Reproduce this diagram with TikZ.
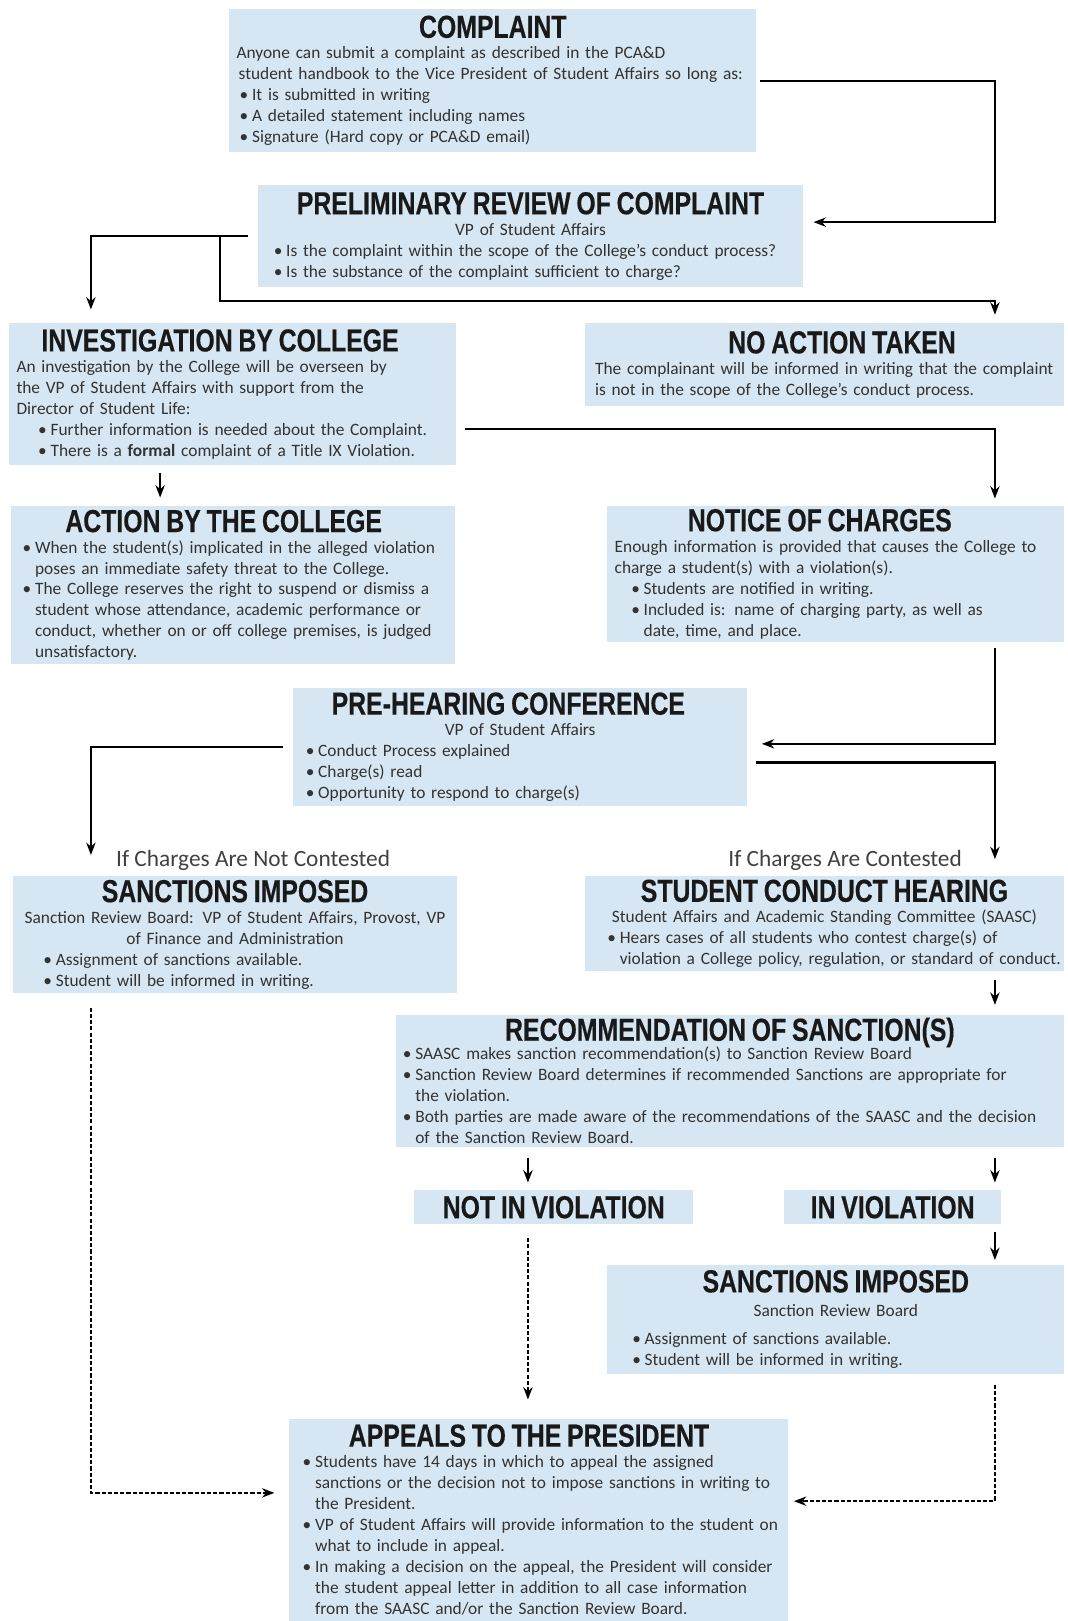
\documentclass[tikz,border=0pt]{standalone}
\usepackage{fontspec}
\setmainfont{Carlito}
\newfontfamily\headfont[FakeStretch=0.78, BoldFeatures={FakeBold=0.4}]{Liberation Sans}
\usepackage{tkz-euclide}
\usetikzlibrary{arrows.meta}
\definecolor{boxblue}{RGB}{214,230,242}

\newcommand\heading[2][0pt]{{\centering\headfont\bfseries\fontsize{15.4}{17}\selectfont\color{black!90}\hspace*{#1}#2\par}}
\newcommand\centred[1]{{\centering #1\par}}
\newcommand\bitem[1][3pt]{\par\hangindent=\dimexpr#1+6pt\relax\hangafter=1\hspace*{#1}\makebox[6pt][l]{\textbullet}\ignorespaces}

\begin{document}
\begin{tikzpicture}[x=0.5pt, y=-0.5pt,
    box/.style={fill=boxblue, inner xsep=3.5pt, inner ysep=0pt, align=left, text=black!80,
        font=\fontsize{8.4}{10.15}\selectfont, execute at begin node=\setlength{\parindent}{0pt}},
    lbl/.style={inner sep=0pt, text=black!75, font=\fontsize{11.3}{13}\selectfont},
    arr/.style={line width=1pt, -{Stealth[length=6pt,width=4.5pt]}},
    dotline/.style={arr, dash pattern=on 2pt off 1pt}]
    \useasboundingbox (0,0) rectangle (1033,1569);
    \tkzDefPoints{88/0/lc, 155/0/ic, 511/0/mc, 963/0/rc, 213/291/br, 963/215/r1,
        963/415/m1, 963/720/m2, 963/738/m3, 88/1445/m4, 963/1453/m5}

    \node[box, text width=248pt, minimum height=69pt] (cmp) at (477,78) {\heading{COMPLAINT}
        Anyone can submit a complaint as described in the PCA\&D\newline
        \hspace*{1pt}student handbook to the Vice President of Student Affairs so long as:
        \bitem[1.5pt] It is submitted in writing
        \bitem[1.5pt] A detailed statement including names
        \bitem[1.5pt] Signature (Hard copy or PCA\&D email)\par};
    \node[box, text width=256.5pt, minimum height=49.5pt] (prv) at (513.5,228.5) {\heading{PRELIMINARY REVIEW OF COMPLAINT}
        \centred{VP of Student Affairs}
        \bitem[4pt] Is the complaint within the scope of the College’s conduct process?
        \bitem[4pt] Is the substance of the complaint sufficient to charge?\par};
    \node[box, text width=209pt, minimum height=68.5pt] (inv) at (225,381.5) {\heading[-12pt]{INVESTIGATION BY COLLEGE}
        An investigation by the College will be overseen by\newline
        the VP of Student Affairs with support from the\newline
        Director of Student Life:
        \bitem[10.5pt] Further information is needed about the Complaint.
        \bitem[10.5pt] There is a \textbf{formal} complaint of a Title IX Violation.\par};
    \node[box, text width=225pt, minimum height=40pt] (noa) at (798,353) {\heading[17pt]{NO ACTION TAKEN}
        \hspace*{1.5pt}The complainant will be informed in writing that the complaint\newline
        \hspace*{1.5pt}is not in the scope of the College’s conduct process.\par};
    \node[box, text width=207.5pt, minimum height=76.5pt] (act) at (225.5,566.5) {\heading[-9pt]{ACTION BY THE COLLEGE}
        \bitem[2pt] When the student(s) implicated in the alleged violation\newline
        poses an immediate safety threat to the College.
        \bitem[2pt] The College reserves the right to suspend or dismiss a\newline
        student whose attendance, academic performance or\newline
        conduct, whether on or off college premises, is judged\newline
        unsatisfactory.\par};
    \node[box, text width=214pt, minimum height=65.5pt] (noc) at (809,555.5) {\heading[-15.5pt]{NOTICE OF CHARGES}
        Enough information is provided that causes the College to\newline
        charge a student(s) with a violation(s).
        \bitem[8pt] Students are notified in writing.
        \bitem[8pt] Included is: name of charging party, as well as\newline
        date, time, and place.\par};
    \node[box, text width=212.5pt, minimum height=57pt] (phc) at (503.5,723) {\heading[-11.5pt]{PRE-HEARING CONFERENCE}
        \centred{VP of Student Affairs}
        \bitem[2.5pt] Conduct Process explained
        \bitem[2.5pt] Charge(s) read
        \bitem[2.5pt] Opportunity to respond to charge(s)\par};
    \node[lbl] (nct) at (245,833) {If Charges Are Not Contested};
    \node[lbl] (ctd) at (818,833) {If Charges Are Contested};
    \node[box, text width=207.5pt, minimum height=56.5pt] (sil) at (227.5,904.5) {\heading{SANCTIONS IMPOSED}
        \centred{Sanction Review Board: VP of Student Affairs, Provost, VP}
        \centred{of Finance and Administration}
        \bitem[11pt] Assignment of sanctions available.
        \bitem[11pt] Student will be informed in writing.\par};
    \node[box, inner xsep=1.5pt, text width=229pt, minimum height=46pt] (sch) at (798,894) {\heading{STUDENT CONDUCT HEARING}
        \centred{Student Affairs and Academic Standing Committee (SAASC)}
        \bitem[9.5pt] Hears cases of all students who contest charge(s) of\newline
        violation a College policy, regulation, or standard of conduct.\par};
    \node[box, text width=316.5pt, minimum height=64pt] (rec) at (706.5,1046) {\heading{RECOMMENDATION OF SANCTION(S)}\vspace{-1pt}
        \bitem[0pt] SAASC makes sanction recommendation(s) to Sanction Review Board
        \bitem[0pt] Sanction Review Board determines if recommended Sanctions are appropriate for\newline
        the violation.
        \bitem[0pt] Both parties are made aware of the recommendations of the SAASC and the decision\newline
        of the Sanction Review Board.\par};
    \node[box, text width=128pt, minimum height=16.5pt] (niv) at (536,1168.5) {\heading{NOT IN VIOLATION}};
    \node[box, text width=98pt, minimum height=16.5pt] (iv) at (864,1168.5) {\heading{IN VIOLATION}};
    \node[box, text width=214pt, minimum height=53pt] (sir) at (809,1277) {\heading{SANCTIONS IMPOSED}\vspace{1.5pt}
        \centred{Sanction Review Board}\vspace{3.5pt}
        \bitem[8.5pt] Assignment of sanctions available.
        \bitem[8.5pt] Student will be informed in writing.\par};
    \node[box, text width=234.5pt, minimum height=98pt] (app) at (521.5,1471) {\heading[-9.5pt]{APPEALS TO THE PRESIDENT}
        \bitem[3pt] Students have 14 days in which to appeal the assigned\newline
        sanctions or the decision not to impose sanctions in writing to\newline
        the President.
        \bitem[3pt] VP of Student Affairs will provide information to the student on\newline
        what to include in appeal.
        \bitem[3pt] In making a decision on the appeal, the President will consider\newline
        the student appeal letter in addition to all case information\newline
        from the SAASC and/or the Sanction Review Board.\par};

    \draw[arr, shorten <=1.5pt, shorten >=5pt] (cmp.east) -| (r1) -- (prv.east |- r1);
    \draw[arr, shorten <=5pt, shorten >=6.5pt] (prv.west) -| (inv.north -| lc);
    \draw[arr, shorten >=4pt] (br |- prv.west) -- (br) -| (noa.north -| rc);
    \draw[arr, shorten <=4.5pt, shorten >=3.5pt] (inv.east |- m1) -- (m1) -- (noc.north -| m1);
    \draw[arr, shorten <=3.5pt, shorten >=4pt] (inv.south -| ic) -- (act.north -| ic);
    \draw[arr, shorten <=3pt, shorten >=7pt] (noc.south -| m2) -- (m2) -- (phc.east |- m2);
    \draw[arr, shorten <=5pt, shorten >=10pt] (phc.west) -| (sil.north -| lc);
    \draw[arr, shorten <=4pt, shorten >=8pt] (phc.east |- m3) -- (m3) -- (sch.north -| m3);
    \draw[arr, shorten <=4pt, shorten >=4.5pt] (sch.south -| rc) -- (rec.north -| rc);
    \draw[arr, shorten <=5pt, shorten >=3.5pt] (rec.south -| mc) -- (niv.north -| mc);
    \draw[arr, shorten <=5pt, shorten >=3.5pt] (rec.south -| rc) -- (iv.north -| rc);
    \draw[arr, shorten <=3.5pt, shorten >=2pt] (iv.south -| rc) -- (sir.north -| rc);
    \draw[dotline, shorten <=6.5pt, shorten >=9pt] (niv.south -| mc) -- (app.north -| mc); %DASHED
    \draw[dotline, shorten <=7pt, shorten >=7pt] (sil.south -| m4) -- (m4) -- (app.west |- m4);
    \draw[dotline, shorten <=5pt, shorten >=2.5pt] (sir.south -| m5) -- (m5) -- (app.east |- m5);
\end{tikzpicture}
\end{document}
